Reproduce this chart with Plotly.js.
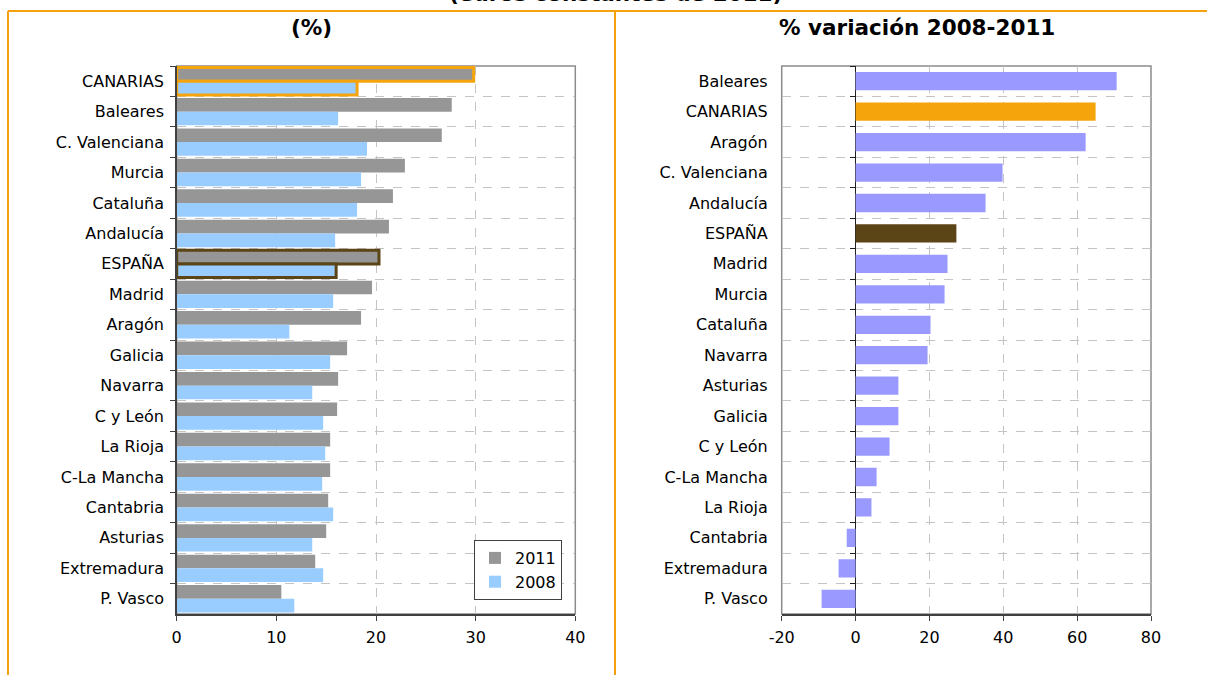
<!DOCTYPE html>
<html>
<head>
<meta charset="utf-8">
<script src="https://cdn.plot.ly/plotly-3.0.1.min.js"></script>
<style>html,body{margin:0;padding:0;background:#fff;}#chart{width:1207px;height:675px;}</style>
</head>
<body>
<div id="chart"></div>
<script>
// ---- data ----
const categoriesLeft = ["CANARIAS","Baleares","C. Valenciana","Murcia","Cataluña","Andalucía","ESPAÑA","Madrid","Aragón","Galicia","Navarra","C y León","La Rioja","C-La Mancha","Cantabria","Asturias","Extremadura","P. Vasco"];
const values2011 = [29.8,27.6,26.6,22.9,21.7,21.3,20.3,19.6,18.5,17.1,16.2,16.1,15.4,15.4,15.2,15.0,13.9,10.5];
const values2008 = [18.1,16.2,19.1,18.5,18.1,15.9,16.0,15.7,11.3,15.4,13.6,14.7,14.9,14.6,15.7,13.6,14.7,11.8];

const categoriesRight = ["Baleares","CANARIAS","Aragón","C. Valenciana","Andalucía","ESPAÑA","Madrid","Murcia","Cataluña","Navarra","Asturias","Galicia","C y León","C-La Mancha","La Rioja","Cantabria","Extremadura","P. Vasco"];
const variation = [70.7,65.0,62.3,39.8,35.2,27.3,24.9,24.1,20.3,19.5,11.6,11.6,9.2,5.7,4.3,-2.4,-4.6,-9.2];

const leftTickVals = [0,10,20,30,40];
const rightTickVals = [-20,0,20,40,60,80];
const rightTickText = ["-20","0","20","40","60","80"];

const titleTop = "(euros constantes de 2011)";
const titleLeft = "(%)";
const titleRight = "% variación 2008-2011";

// ---- styles ----
const ORANGE = "#F5A40C", BROWN = "#5B4516", PURPLE = "#9999FF";
const GRAY = "#969696", BLUE = "#99CCFF", FRAME = "#F5A00F";
const FONT = "DejaVu Sans";
const NONE = "rgba(0,0,0,0)";

// data is fed bottom-up so that the legend swatch takes an un-outlined bar's style
const rev = a => a.slice().reverse();
const catsL = rev(categoriesLeft);
const outlineColor = catsL.map(c => c === "CANARIAS" ? ORANGE : (c === "ESPAÑA" ? BROWN : NONE));
const outlineWidth = catsL.map(c => (c === "CANARIAS" || c === "ESPAÑA") ? 3 : 0);
const rightColors = categoriesRight.map(c => c === "CANARIAS" ? ORANGE : (c === "ESPAÑA" ? BROWN : PURPLE));

const W = 1207, H = 675;
const px = v => v / W, py = v => 1 - v / H;

const traces = [
  {type:"bar", orientation:"h", name:"2011", x:rev(values2011), y:catsL, xaxis:"x", yaxis:"y",
   marker:{color:GRAY, line:{color:outlineColor, width:outlineWidth}}, legendgroup:"a", hoverinfo:"x+y"},
  {type:"bar", orientation:"h", name:"2008", x:rev(values2008), y:catsL, xaxis:"x", yaxis:"y",
   marker:{color:BLUE, line:{color:outlineColor, width:outlineWidth}}, legendgroup:"b", hoverinfo:"x+y"},
  {type:"bar", orientation:"h", name:"var", x:variation, y:categoriesRight, xaxis:"x2", yaxis:"y2",
   width:0.6, marker:{color:rightColors}, showlegend:false, hoverinfo:"x+y"},
  {type:"scatter", mode:"none", x:categoriesRight.map(()=>0), y:categoriesRight, xaxis:"x2", yaxis:"y3",
   showlegend:false, hoverinfo:"skip"}
];

const gridStyle = {showgrid:true, gridcolor:"#c4c4c4", griddash:"dash", gridwidth:1};
const tickFont = {family:FONT, size:16, color:"#000"};
const yDom = [py(614), py(66)];

const layout = {
  width:W, height:H, margin:{l:0,r:0,t:0,b:0},
  paper_bgcolor:"#fff", plot_bgcolor:"#fff",
  barmode:"group", bargap:0.1, bargroupgap:0,
  font:{family:FONT, size:16, color:"#000"},
  xaxis:Object.assign({domain:[px(176.7), px(575.3)], range:[0,40], tickmode:"array", tickvals:leftTickVals,
    showline:true, linecolor:"#404040", linewidth:1.5, ticks:"outside", ticklen:5, tickcolor:"#404040",
    tickfont:tickFont, zeroline:false, anchor:"y", fixedrange:true, ticklabelstandoff:3}, gridStyle),
  yaxis:Object.assign({domain:yDom, type:"category", categoryorder:"array", categoryarray:categoriesLeft,
    range:[17.5,-0.5], tickson:"boundaries", ticks:"outside", ticklen:5, tickcolor:"#404040",
    showline:true, linecolor:"#404040", linewidth:1.5, tickfont:tickFont, anchor:"x", fixedrange:true,
    ticklabelstandoff:8}, gridStyle),
  xaxis2:Object.assign({domain:[px(781.7), px(1151)], range:[-20,80], tickmode:"array",
    tickvals:rightTickVals, ticktext:rightTickText,
    showline:true, linecolor:"#404040", linewidth:1.5, ticks:"outside", ticklen:5, tickcolor:"#404040",
    tickfont:tickFont, zeroline:true, zerolinecolor:"#202020", zerolinewidth:1, anchor:"y2", fixedrange:true,
    ticklabelstandoff:3}, gridStyle),
  yaxis2:Object.assign({domain:yDom, type:"category", categoryorder:"array", categoryarray:categoriesRight,
    range:[17.5,-0.5], tickson:"boundaries", ticks:"", showline:false,
    tickfont:tickFont, anchor:"x2", ticklabelstandoff:13, fixedrange:true}, gridStyle),
  yaxis3:{overlaying:"y2", anchor:"free", position:px(855), type:"category", categoryorder:"array",
    categoryarray:categoriesRight, range:[17.5,-0.5], tickson:"boundaries", ticks:"outside", ticklen:5,
    tickcolor:"#202020", showticklabels:false, showgrid:false, showline:false, zeroline:false, fixedrange:true},
  legend:{x:px(562), xanchor:"right", y:py(540), yanchor:"top", bgcolor:"#fff",
    bordercolor:"#404040", borderwidth:1, font:{family:FONT, size:16, color:"#000"},
    traceorder:"normal", tracegroupgap:9, itemwidth:30},
  shapes:[
    {type:"rect", xref:"x domain", yref:"y domain", x0:0, x1:1, y0:0, y1:1, line:{color:"#8c8c8c", width:1.5}, layer:"below"},
    {type:"rect", xref:"x2 domain", yref:"y2 domain", x0:0, x1:1, y0:0, y1:1, line:{color:"#8c8c8c", width:1.5}, layer:"below"},
    {type:"line", xref:"paper", yref:"paper", x0:px(8), x1:1, y0:py(11), y1:py(11), line:{color:FRAME, width:2}},
    {type:"line", xref:"paper", yref:"paper", x0:px(8), x1:px(8), y0:0, y1:py(11), line:{color:FRAME, width:2}},
    {type:"line", xref:"paper", yref:"paper", x0:px(615), x1:px(615), y0:0, y1:py(11), line:{color:FRAME, width:2}}
  ],
  annotations:[
    {text:"<b>"+titleTop+"</b>", xref:"paper", yref:"paper", x:px(615), y:py(-7), xanchor:"center", yanchor:"middle",
     showarrow:false, font:{family:FONT, size:21.5, color:"#000"}},
    {text:"<b>"+titleLeft+"</b>", xref:"paper", yref:"paper", x:px(311), y:py(28), xanchor:"center", yanchor:"middle",
     showarrow:false, font:{family:FONT, size:21.5, color:"#000"}},
    {text:"<b>"+titleRight+"</b>", xref:"paper", yref:"paper", x:px(917), y:py(28), xanchor:"center", yanchor:"middle",
     showarrow:false, font:{family:FONT, size:21.5, color:"#000"}}
  ]
};

Plotly.newPlot("chart", traces, layout, {displayModeBar:false, staticPlot:true});
</script>
</body>
</html>
